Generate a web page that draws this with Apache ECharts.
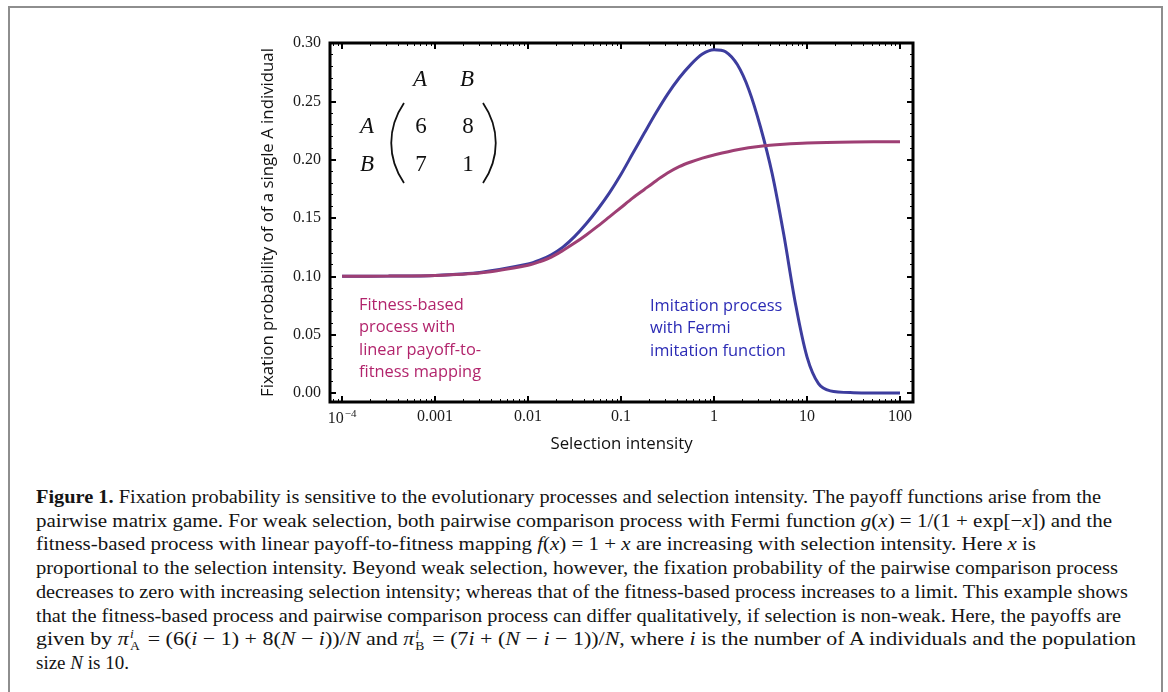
<!DOCTYPE html>
<html>
<head>
<meta charset="utf-8">
<title>Fixation probability vs selection intensity</title>
<script src="https://cdn.jsdelivr.net/npm/echarts@6/dist/echarts.min.js"></script>
<style>
    body { margin: 0; background: #fff; }
    #page { position: relative; width: 1168px; height: 692px; overflow: hidden; background: #fff; }
    #frame { position: absolute; left: 8px; top: 6px; width: 1151px; height: 720px; border: 2px solid #8e8e8e; border-bottom: none; }
    #chart { position: absolute; left: 0; top: 0; width: 1168px; height: 470px; }
    #caption { position: absolute; left: 36px; top: 485px; font-family: 'Liberation Serif', serif; font-size: 19px; color: #141414; }
    #caption .ln { position: absolute; left: 0; white-space: nowrap; transform-origin: 0 50%; line-height: 23.7px; }
    .ss { display: inline-block; vertical-align: -0.42em; font-size: 0.62em; line-height: 1.0; margin-left: 1px; margin-right: 2px; }
    .ss span { display: block; }
</style>
</head>
<body>
<div id="page">
    <div id="frame"></div>
    <div id="chart"></div>
    <div id="caption">
        <div class="ln" data-end="1101"><b>Figure 1.</b> Fixation probability is sensitive to the evolutionary processes and selection intensity. The payoff functions arise from the</div>
        <div class="ln" data-end="1112">pairwise matrix game. For weak selection, both pairwise comparison process with Fermi function <i>g</i>(<i>x</i>) = 1/(1 + exp[−<i>x</i>]) and the</div>
        <div class="ln" data-end="1036">fitness-based process with linear payoff-to-fitness mapping <i>f</i>(<i>x</i>) = 1 + <i>x</i> are increasing with selection intensity. Here <i>x</i> is</div>
        <div class="ln" data-end="1118">proportional to the selection intensity. Beyond weak selection, however, the fixation probability of the pairwise comparison process</div>
        <div class="ln" data-end="1128">decreases to zero with increasing selection intensity; whereas that of the fitness-based process increases to a limit. This example shows</div>
        <div class="ln" data-end="1121">that the fitness-based process and pairwise comparison process can differ qualitatively, if selection is non-weak. Here, the payoffs are</div>
        <div class="ln" data-end="1136">given by <i>π</i><span class="ss"><span><i>i</i></span><span>A</span></span> = (6(<i>i</i> − 1) + 8(<i>N</i> − <i>i</i>))/<i>N</i> and <i>π</i><span class="ss"><span><i>i</i></span><span>B</span></span> = (7<i>i</i> + (<i>N</i> − <i>i</i> − 1))/<i>N</i>, where <i>i</i> is the number of A individuals and the population</div>
        <div class="ln">size <i>N</i> is 10.</div>
    </div>
</div>
<script>
// Imitation process with Fermi imitation function (blue)
const imitationX = [1e-4, 3.16e-4, 1e-3, 3.16e-3, 0.01, 0.0133, 0.0178, 0.0237, 0.0316, 0.0422, 0.0562, 0.075, 0.1, 0.133, 0.178, 0.237, 0.316, 0.422, 0.562, 0.75, 1, 1.33, 1.78, 2.37, 3.16, 4.22, 5.62, 7.5, 10, 13.3, 17.8, 31.6, 100];
const imitationY = [0.1000, 0.1002, 0.1008, 0.1035, 0.1105, 0.1138, 0.1185, 0.1250, 0.1340, 0.1450, 0.1575, 0.1715, 0.1875, 0.2050, 0.2228, 0.2400, 0.2560, 0.2700, 0.2815, 0.2905, 0.2942, 0.2925, 0.2815, 0.2600, 0.2280, 0.1880, 0.1360, 0.0770, 0.0310, 0.0080, 0.0018, 0.0003, 0.0000];

// Fitness-based process with linear payoff-to-fitness mapping (purple)
const fitnessX = [1e-4, 3.16e-4, 1e-3, 3.16e-3, 0.01, 0.0133, 0.0178, 0.0237, 0.0316, 0.0422, 0.0562, 0.075, 0.1, 0.133, 0.178, 0.237, 0.316, 0.422, 0.562, 0.75, 1, 1.78, 3.16, 5.62, 10, 31.6, 100];
const fitnessY = [0.1000, 0.1002, 0.1007, 0.1030, 0.1095, 0.1125, 0.1165, 0.1222, 0.1285, 0.1355, 0.1430, 0.1510, 0.1590, 0.1670, 0.1745, 0.1818, 0.1885, 0.1940, 0.1980, 0.2013, 0.2040, 0.2085, 0.2115, 0.2132, 0.2143, 0.2151, 0.2154];

// tick labels
const xTickValues = [1e-4, 0.001, 0.01, 0.1, 1, 10, 100];
const xTickLabels = ['{b|10}{s|−4}', '0.001', '0.01', '0.1', '1', '10', '100'];
const yTickValues = [0, 0.05, 0.10, 0.15, 0.20, 0.25, 0.30];

const xMin = -4.13, xMax = 2.14;      // log10 of selection intensity
const yMin = -0.0077, yMax = 0.30;

var chart = echarts.init(document.getElementById('chart'));

let xMajor = xTickValues.map(v => Math.log10(v));
let xMinor = [];
for (let e = -5; e <= 2; e++) {
    for (let k = 2; k <= 9; k++) {
        let v = e + Math.log10(k);
        if (v > xMin && v < xMax) xMinor.push(v);
    }
}
let yMinor = [];
for (let i = 1; i < 30; i++) {
    if (i % 5 !== 0) yMinor.push(i / 100);
}

const sansFont = 'Open Sans';
const serifLabel = {
    fontFamily: 'Liberation Serif',
    fontSize: 16,
    color: '#1a1a1a'
};

function makeAxis(position, min, max, ticks, len, width, label) {
    return {
        type: 'value',
        position: position,
        min: min,
        max: max,
        axisLine: {show: false, onZero: false},
        splitLine: {show: false},
        axisTick: {
            show: true,
            inside: true,
            length: len,
            customValues: ticks,
            lineStyle: {color: '#000', width: width}
        },
        axisLabel: label ? Object.assign({customValues: ticks}, label) : {show: false}
    };
}

let xMain = makeAxis('bottom', xMin, xMax, xMajor, 6, 2, Object.assign({
    margin: 7,
    formatter: (val) => {
        let idx = xMajor.findIndex(v => Math.abs(v - val) < 1e-6);
        return idx >= 0 ? xTickLabels[idx] : '';
    },
    rich: {
        b: {fontFamily: 'Liberation Serif', fontSize: 16, color: '#1a1a1a'},
        s: {fontFamily: 'Liberation Serif', fontSize: 11, color: '#1a1a1a', padding: [0, 0, 9, 1]}
    }
}, serifLabel));
xMain.name = 'Selection intensity';
xMain.nameLocation = 'middle';
xMain.nameGap = 34;
xMain.nameTextStyle = {fontFamily: sansFont, fontSize: 16.8, color: '#111'};

let yMain = makeAxis('left', yMin, yMax, yTickValues, 6, 2, Object.assign({
    margin: 9,
    formatter: (val) => val.toFixed(2)
}, serifLabel));
yMain.name = 'Fixation probability of of a single A individual';
yMain.nameLocation = 'middle';
yMain.nameGap = 53;
yMain.nameTextStyle = {fontFamily: sansFont, fontSize: 16.8, color: '#111'};

const matrixFont = 'Liberation Serif';
function mText(x, y, text, italic) {
    return {
        type: 'text',
        x: x,
        y: y,
        style: {
            text: text,
            fontFamily: matrixFont,
            fontSize: 23,
            fontStyle: italic ? 'italic' : 'normal',
            fill: '#111',
            align: 'center',
            verticalAlign: 'middle'
        }
    };
}
function note(x, y, lines, color) {
    return {
        type: 'text',
        x: x,
        y: y,
        style: {
            text: lines.join('\n'),
            fontFamily: sansFont,
            fontSize: 16.4,
            lineHeight: 22.5,
            fill: color,
            align: 'left',
            verticalAlign: 'top'
        }
    };
}

var option = {
    animation: false,
    backgroundColor: 'transparent',
    grid: {
        left: 330,
        top: 43,
        width: 583,
        height: 359,
        show: true,
        borderColor: '#000',
        borderWidth: 3,
        backgroundColor: 'transparent'
    },
    xAxis: [
        xMain,
        makeAxis('bottom', xMin, xMax, xMinor, 3, 1, null),
        makeAxis('top', xMin, xMax, xMajor, 6, 2, null),
        makeAxis('top', xMin, xMax, xMinor, 3, 1, null)
    ],
    yAxis: [
        yMain,
        makeAxis('left', yMin, yMax, yMinor, 3, 1, null),
        makeAxis('right', yMin, yMax, yTickValues, 6, 2, null),
        makeAxis('right', yMin, yMax, yMinor, 3, 1, null)
    ],
    series: [
        {
            name: 'Imitation process',
            type: 'line',
            xAxisIndex: 0,
            yAxisIndex: 0,
            showSymbol: false,
            smooth: 0.3,
            data: imitationX.map((x, i) => [Math.log10(x), imitationY[i]]),
            lineStyle: {color: '#3d3d9e', width: 3}
        },
        {
            name: 'Fitness-based process',
            type: 'line',
            xAxisIndex: 0,
            yAxisIndex: 0,
            showSymbol: false,
            smooth: 0.3,
            data: fitnessX.map((x, i) => [Math.log10(x), fitnessY[i]]),
            lineStyle: {color: '#9e3f74', width: 3}
        }
    ],
    graphic: [
        // payoff matrix
        mText(420, 80, 'A', true),
        mText(467, 80, 'B', true),
        mText(367, 127, 'A', true),
        mText(367, 165, 'B', true),
        mText(421, 127, '6', false),
        mText(468, 127, '8', false),
        mText(421, 165, '7', false),
        mText(468, 165, '1', false),
        {
            type: 'bezierCurve',
            shape: {x1: 404, y1: 103, cpx1: 387, cpy1: 128, cpx2: 387, cpy2: 158, x2: 404, y2: 183},
            style: {stroke: '#111', lineWidth: 1.8, fill: null}
        },
        {
            type: 'bezierCurve',
            shape: {x1: 483, y1: 103, cpx1: 500, cpy1: 128, cpx2: 500, cpy2: 158, x2: 483, y2: 183},
            style: {stroke: '#111', lineWidth: 1.8, fill: null}
        },
        note(359, 294, ['Fitness-based', 'process with', 'linear payoff-to-', 'fitness mapping'], '#b2246c'),
        note(650, 295, ['Imitation process', 'with Fermi', 'imitation function'], '#2b2bb5')
    ]
};

chart.setOption(option);

// caption lines: place and fit to the original line lengths
document.querySelectorAll('#caption .ln').forEach((el, i) => {
    el.style.top = (i * 23.7) + 'px';
    let end = parseFloat(el.dataset.end);
    if (end) {
        let w = el.getBoundingClientRect().width;
        el.style.transform = 'scaleX(' + ((end - 36) / w) + ')';
    }
});
</script>
</body>
</html>
